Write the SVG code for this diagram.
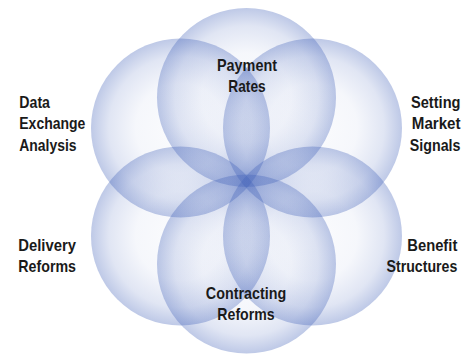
<svg xmlns="http://www.w3.org/2000/svg" width="476" height="354" viewBox="0 0 476 354">
<defs>
<radialGradient id="g" cx="0.5" cy="0.5" r="0.5">
<stop offset="0" stop-color="#4060b8" stop-opacity="0.02"/>
<stop offset="0.5" stop-color="#4060b8" stop-opacity="0.05"/>
<stop offset="0.8" stop-color="#4060b8" stop-opacity="0.16"/>
<stop offset="1" stop-color="#4060b8" stop-opacity="0.34"/>
</radialGradient>
</defs>
<style>
.c{fill:url(#g);}
.t{font-family:"Liberation Sans Narrow","Liberation Sans",Arial,sans-serif;font-weight:bold;font-size:17px;fill:#1a1a1a;}
</style>
<rect width="476" height="354" fill="#ffffff"/>
<g id="nodes">
<g id="node-payment-rates"><circle class="c" cx="246.5" cy="97.5" r="89.5"/></g>
<g id="node-data-exchange"><circle class="c" cx="180.5" cy="128" r="89.5"/></g>
<g id="node-market-signals"><circle class="c" cx="312.5" cy="128" r="89.5"/></g>
<g id="node-delivery-reforms"><circle class="c" cx="180.5" cy="236" r="89.5"/></g>
<g id="node-benefit-structures"><circle class="c" cx="312.5" cy="236" r="89.5"/></g>
<g id="node-contracting-reforms"><circle class="c" cx="246.5" cy="264" r="89.5"/></g>
</g>
<g id="labels">
<g id="label-payment-rates" text-anchor="middle">
<text class="t" x="247" y="70.7" textLength="60" lengthAdjust="spacingAndGlyphs">Payment</text>
<text class="t" x="247" y="91.7" textLength="37.3" lengthAdjust="spacingAndGlyphs">Rates</text>
</g>
<g id="label-data-exchange">
<text class="t" x="19.3" y="107.7" textLength="30.7" lengthAdjust="spacingAndGlyphs">Data</text>
<text class="t" x="19.3" y="129.2" textLength="66" lengthAdjust="spacingAndGlyphs">Exchange</text>
<text class="t" x="19.3" y="150.7" textLength="57.3" lengthAdjust="spacingAndGlyphs">Analysis</text>
</g>
<g id="label-market-signals" text-anchor="end">
<text class="t" x="460.5" y="107.7" textLength="49.5" lengthAdjust="spacingAndGlyphs">Setting</text>
<text class="t" x="460.5" y="129.2" textLength="48.7" lengthAdjust="spacingAndGlyphs">Market</text>
<text class="t" x="460.5" y="150.7" textLength="50.7" lengthAdjust="spacingAndGlyphs">Signals</text>
</g>
<g id="label-delivery-reforms">
<text class="t" x="18.3" y="250.7" textLength="57.7" lengthAdjust="spacingAndGlyphs">Delivery</text>
<text class="t" x="18.3" y="271.7" textLength="57.7" lengthAdjust="spacingAndGlyphs">Reforms</text>
</g>
<g id="label-benefit-structures" text-anchor="end">
<text class="t" x="457.3" y="250.7" textLength="50" lengthAdjust="spacingAndGlyphs">Benefit</text>
<text class="t" x="457.3" y="271.7" textLength="70.7" lengthAdjust="spacingAndGlyphs">Structures</text>
</g>
<g id="label-contracting-reforms" text-anchor="middle">
<text class="t" x="246" y="299" textLength="80.3" lengthAdjust="spacingAndGlyphs">Contracting</text>
<text class="t" x="246" y="320" textLength="57.3" lengthAdjust="spacingAndGlyphs">Reforms</text>
</g>
</g>
</svg>
